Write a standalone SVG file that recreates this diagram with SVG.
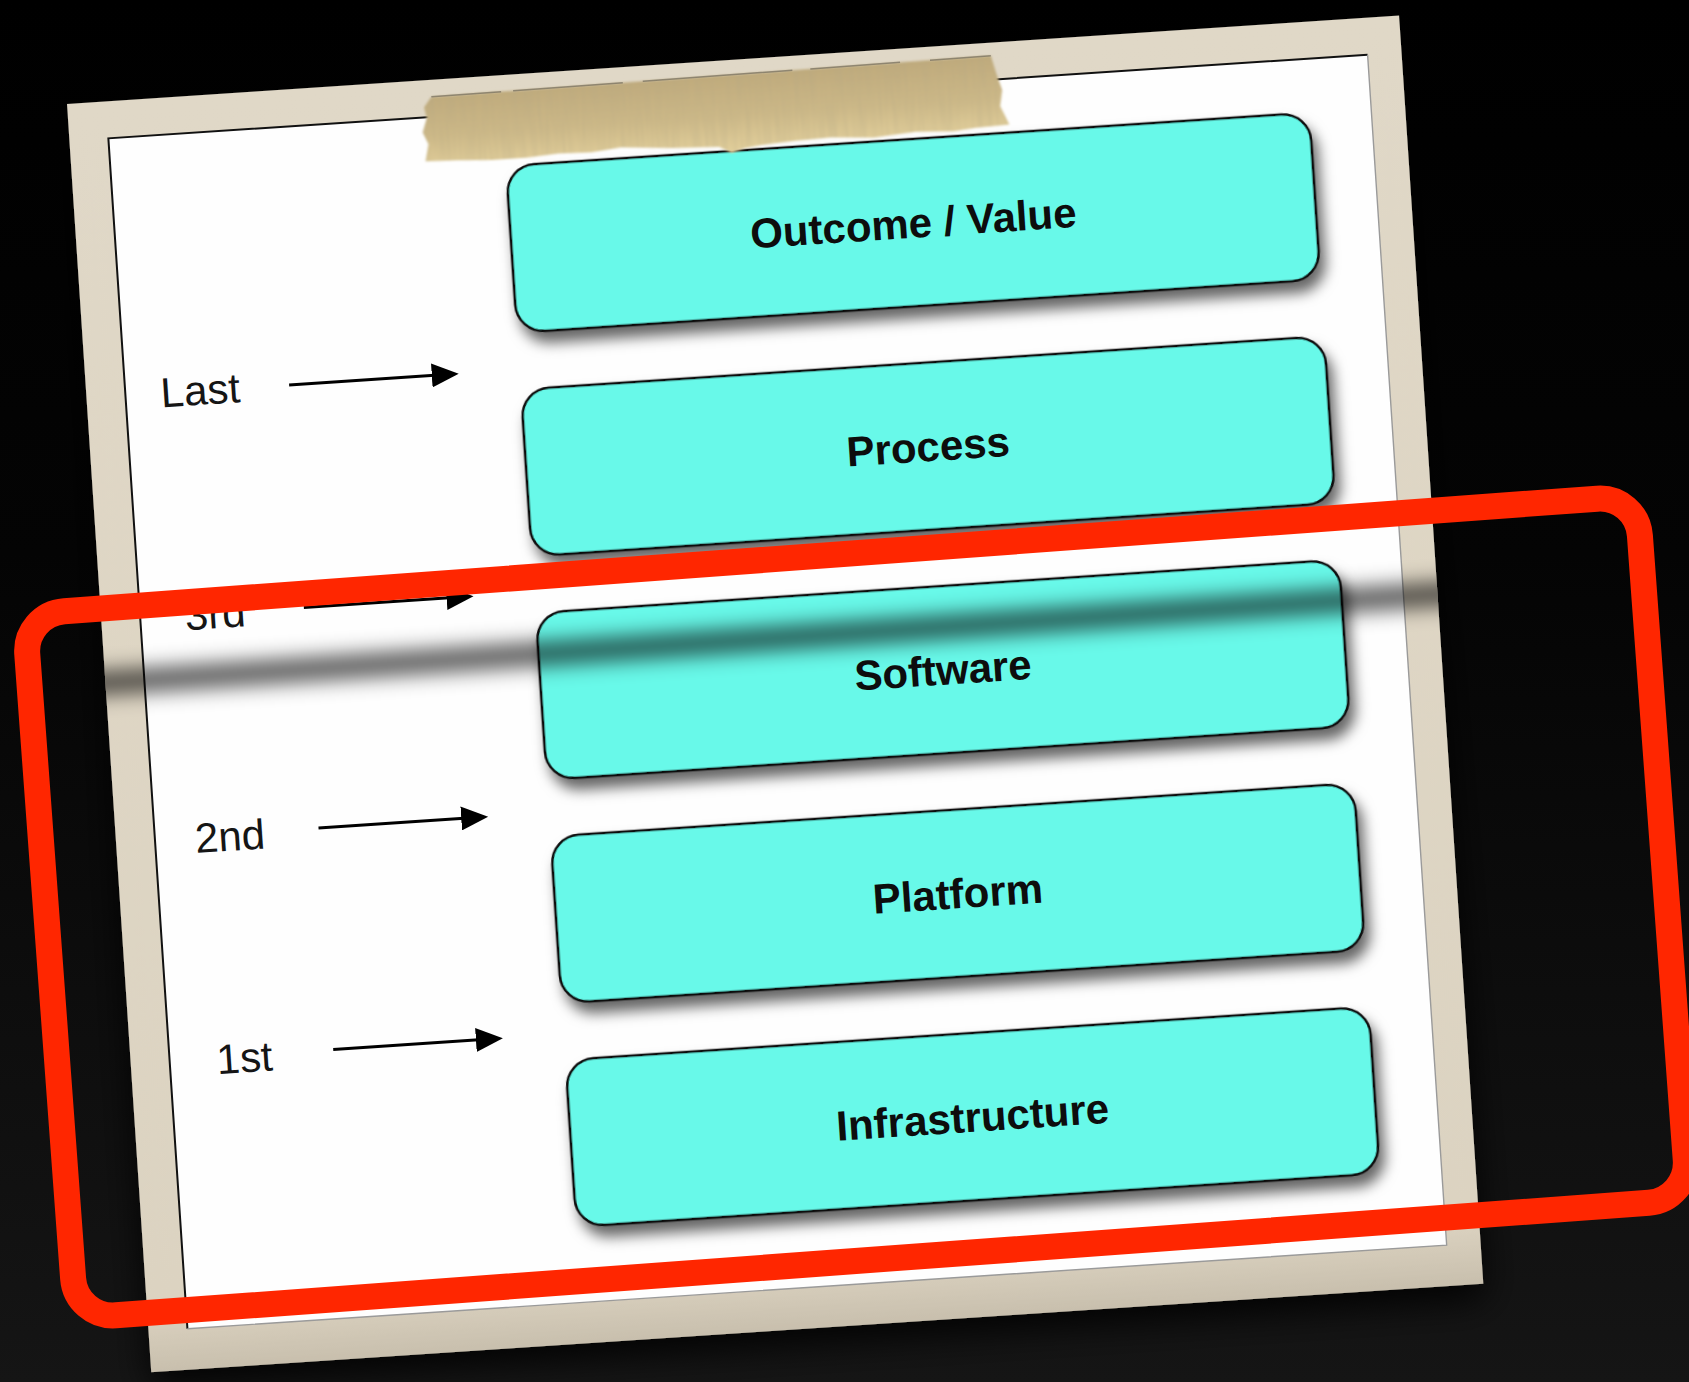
<svg xmlns="http://www.w3.org/2000/svg" width="1689" height="1382" viewBox="0 0 1689 1382">
  <defs>
    <style>
      .node rect { fill: #67F9E9; stroke: #111; stroke-width: 2.6; }
      .node text { font-family: "Liberation Sans", Arial, Helvetica, sans-serif; font-weight: bold; font-size: 42px; fill: #0d0d0d; text-anchor: middle; }
      .step text { font-family: "Liberation Sans", Arial, Helvetica, sans-serif; font-size: 42px; fill: #151515; text-anchor: middle; }
      .arrow { stroke: #000; stroke-width: 3; fill: none; marker-end: url(#arrowhead); }
    </style>
    <linearGradient id="bg" x1="0" y1="0" x2="0" y2="1">
      <stop offset="0" stop-color="#000"/>
      <stop offset="0.4" stop-color="#040404"/>
      <stop offset="1" stop-color="#151515"/>
    </linearGradient>
    <linearGradient id="mat" x1="0" y1="0" x2="0" y2="1">
      <stop offset="0" stop-color="#E0D8C7"/>
      <stop offset="0.95" stop-color="#DCD3C1"/>
      <stop offset="1" stop-color="#C8BFAD"/>
    </linearGradient>
    <linearGradient id="tapeFill" x1="0" y1="0" x2="0" y2="1">
      <stop offset="0" stop-color="#BFAA7C"/>
      <stop offset="0.55" stop-color="#CDB988"/>
      <stop offset="1" stop-color="#E3D09C"/>
    </linearGradient>
    <filter id="paperShadow" x="-10%" y="-10%" width="120%" height="125%">
      <feDropShadow dx="0" dy="14" stdDeviation="18" flood-color="#000" flood-opacity="0.9"/>
    </filter>
    <filter id="boxShadow" x="-10%" y="-30%" width="125%" height="190%">
      <feDropShadow dx="5" dy="11" stdDeviation="7" flood-color="#000" flood-opacity="0.6"/>
    </filter>
    <filter id="foldBlur" x="-5%" y="-400%" width="110%" height="900%">
      <feGaussianBlur stdDeviation="0 11"/>
    </filter>
    <filter id="tapeGrain" x="-2%" y="-10%" width="104%" height="120%">
      <feTurbulence type="fractalNoise" baseFrequency="0.3 0.02" numOctaves="2" seed="7" result="noise"/>
      <feColorMatrix in="noise" type="matrix" values="0 0 0 0 0.45  0 0 0 0 0.39  0 0 0 0 0.24  0 0 0 0.5 -0.16" result="tint"/>
      <feComposite in="tint" in2="SourceGraphic" operator="in" result="grain"/>
      <feMerge result="tape"><feMergeNode in="SourceGraphic"/><feMergeNode in="grain"/></feMerge>
      <feGaussianBlur in="tape" stdDeviation="0.8"/>
    </filter>
    <clipPath id="paperClip">
      <rect x="0" y="0" width="1335" height="1271"/>
    </clipPath>
    <marker id="arrowhead" markerUnits="userSpaceOnUse" markerWidth="28" markerHeight="24" refX="14" refY="12" orient="auto">
      <path d="M0,0 L27,12 L0,24 Z" fill="#000"/>
    </marker>
  </defs>

  <!-- backdrop -->
  <rect x="0" y="0" width="1689" height="1382" fill="url(#bg)"/>

  <!-- the pinned print, tilted slightly -->
  <g id="photo" transform="translate(67 104) rotate(-3.8)">
    <rect id="mat" x="0" y="0" width="1335" height="1271" fill="url(#mat)" filter="url(#paperShadow)"/>
    <rect id="sheet" x="39" y="37" width="1262" height="1193" fill="#FEFEFE"/>
    <path d="M39,1230 L39,37 L1301,37" fill="none" stroke="#111" stroke-width="2"/>
    <path d="M1301,37 L1301,1230 L39,1230" fill="none" stroke="#9a9a9a" stroke-width="1.4"/>

    <!-- step labels -->
    <g id="step-last" class="step"><text x="114" y="309">Last</text></g>
    <g id="step-3rd" class="step"><text x="114" y="533">3rd</text></g>
    <g id="step-2nd" class="step"><text x="114" y="756">2nd</text></g>
    <g id="step-1st" class="step"><text x="114" y="978">1st</text></g>

    <g id="connectors">
      <line class="arrow" x1="203" y1="295" x2="360" y2="295"/>
      <line class="arrow" x1="203" y1="518" x2="360" y2="518"/>
      <line class="arrow" x1="203" y1="739" x2="360" y2="739"/>
      <line class="arrow" x1="203" y1="961" x2="360" y2="961"/>
    </g>

    <!-- layer stack -->
    <g id="outcome" class="node">
      <rect x="434" y="91" width="805" height="167" rx="28" filter="url(#boxShadow)"/>
      <text x="836.5" y="189.5">Outcome / Value</text>
    </g>
    <g id="process" class="node">
      <rect x="434" y="315" width="805" height="167" rx="28" filter="url(#boxShadow)"/>
      <text x="836.5" y="413.5">Process</text>
    </g>
    <g id="software" class="node">
      <rect x="434" y="539" width="805" height="167" rx="28" filter="url(#boxShadow)"/>
      <text x="836.5" y="637.5">Software</text>
    </g>
    <g id="platform" class="node">
      <rect x="434" y="763" width="805" height="167" rx="28" filter="url(#boxShadow)"/>
      <text x="836.5" y="861.5">Platform</text>
    </g>
    <g id="infrastructure" class="node">
      <rect x="434" y="987" width="805" height="167" rx="28" filter="url(#boxShadow)"/>
      <text x="836.5" y="1085.5">Infrastructure</text>
    </g>

    <!-- crease across the print -->
    <g clip-path="url(#paperClip)">
      <rect x="-20" y="570" width="1375" height="20" fill="#000" fill-opacity="0.78" filter="url(#foldBlur)"/>
    </g>

    <!-- masking tape -->
    <g id="tape">
      <path d="M364,17 L925,13 L929,30 L934,48 L931,64 L939,83 L905,84 L883,86 L845,84 L803,87 L760,84 L724,85 L690,87 L673,89 L660,93 L648,86 L600,84 L550,80 L520,83 L487,82 L455,84 L420,84 L385,82 L354,81 L358,64 L353,52 L358,38 L356,27 Z" fill="url(#tapeFill)" filter="url(#tapeGrain)"/>
      <path d="M364,17 L925,13" fill="none" stroke="#5a5347" stroke-opacity="0.55" stroke-width="1.5" stroke-dasharray="70 12 110 20 150 18 90 30"/>
    </g>
  </g>

  <!-- highlight around the first three layers -->
  <rect id="highlight" x="-808.5" y="-353" width="1617" height="706" rx="40" transform="translate(856.5 907) rotate(-4.2)" fill="none" stroke="#FF2600" stroke-width="26"/>
</svg>
